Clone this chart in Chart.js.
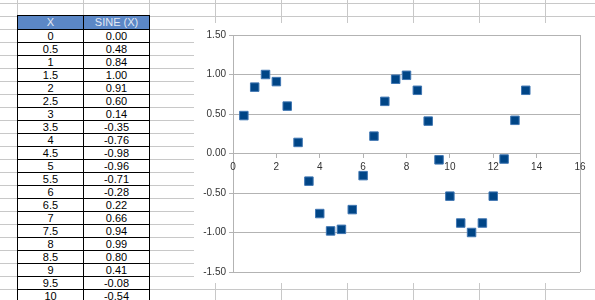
<!DOCTYPE html>
<html>
<head>
<meta charset="utf-8">
<script src="https://cdn.jsdelivr.net/npm/chart.js@4/dist/chart.umd.min.js"></script>
<style>
  html, body { margin: 0; padding: 0; }
  body {
    width: 595px; height: 300px; overflow: hidden; position: relative;
    background-color: #fff;
    background-image:
      linear-gradient(to bottom, #c8c8c8 1px, transparent 1px),
      linear-gradient(to right, #c8c8c8 1px, transparent 1px);
    background-size: 100% 13px, 66px 100%;
    background-position: 0 3px, 17px 0;
    font-family: "Liberation Sans", Arial, sans-serif;
  }
  #tbl { position: absolute; left: 17px; top: 15px; border-left: 1px solid #000; border-top: 1px solid #000; }
  .row { display: flex; }
  .cell { box-sizing: border-box; width: 66px; height: 13px; border-right: 1px solid #000; border-bottom: 1px solid #000;
          font-size: 11px; line-height: 12px; text-align: center; color: #000; background: #fff; }
  .hdr .cell { height: 14px; line-height: 13px; background: #5b87c6; color: #e2e8f2; }
  #chartBox { position: absolute; left: 194px; top: 23px; width: 401px; height: 260px; background: #fff; }
</style>
</head>
<body>
<div id="tbl"></div>
<div id="chartBox"><canvas id="c" width="401" height="260"></canvas></div>
<script>
// Table data
const tableHeaders = ["X", "SINE (X)"];
const tableX = ["0","0.5","1","1.5","2","2.5","3","3.5","4","4.5","5","5.5","6","6.5","7","7.5","8","8.5","9","9.5","10"];
const tableSine = ["0.00","0.48","0.84","1.00","0.91","0.60","0.14","-0.35","-0.76","-0.98","-0.96","-0.71","-0.28","0.22","0.66","0.94","0.99","0.80","0.41","-0.08","-0.54"];

// Chart data
const chartX = [0.5,1,1.5,2,2.5,3,3.5,4,4.5,5,5.5,6,6.5,7,7.5,8,8.5,9,9.5,10,10.5,11,11.5,12,12.5,13,13.5];
const chartY = [0.48,0.84,1.00,0.91,0.60,0.14,-0.35,-0.76,-0.98,-0.96,-0.71,-0.28,0.22,0.66,0.94,0.99,0.80,0.41,-0.08,-0.54,-0.88,-1.00,-0.88,-0.54,-0.07,0.42,0.80];
const yTickLabels = ["-1.50","-1.00","-0.50","0.00","0.50","1.00","1.50"];
const xTickLabels = ["0","2","4","6","8","10","12","14","16"];

// Build table
const tbl = document.getElementById('tbl');
function addRow(vals, cls) {
  const r = document.createElement('div');
  r.className = 'row' + (cls ? ' ' + cls : '');
  vals.forEach(v => { const c = document.createElement('div'); c.className = 'cell'; c.textContent = v; r.appendChild(c); });
  tbl.appendChild(r);
}
addRow(tableHeaders, 'hdr');
tableX.forEach((x, i) => addRow([x, tableSine[i]]));

const gridCol = '#b3b3b3';
const labelFont = { family: "Liberation Sans", size: 10 };

new Chart(document.getElementById('c'), {
  type: 'scatter',
  data: {
    datasets: [{
      data: chartX.map((x, i) => ({ x: x, y: chartY[i] })),
      pointStyle: 'rect',
      pointRadius: 6,
      pointHoverRadius: 6,
      backgroundColor: '#004586',
      borderColor: '#3f76b2',
      borderWidth: 1,
      showLine: false
    }]
  },
  options: {
    responsive: false,
    devicePixelRatio: 1,
    animation: false,
    layout: { padding: { top: 12, right: 15, bottom: 11, left: 0 } },
    plugins: { legend: { display: false }, tooltip: { enabled: false } },
    scales: {
      y: {
        min: -1.5, max: 1.5,
        afterFit: s => { s.width = 39; },
        ticks: {
          stepSize: 0.5, font: labelFont, color: '#333', padding: 3,
          callback: (v) => yTickLabels[Math.round((v + 1.5) / 0.5)]
        },
        grid: { color: gridCol, tickLength: 4, tickColor: gridCol },
        border: { color: gridCol }
      },
      x: {
        type: 'linear', min: 0, max: 16,
        position: { y: 0 },
        ticks: {
          stepSize: 2, font: labelFont, color: '#333', padding: 4, maxRotation: 0,
          callback: (v) => xTickLabels[Math.round(v / 2)]
        },
        grid: {
          color: ctx => (ctx.tick && ctx.tick.value === 16) ? gridCol : 'rgba(0,0,0,0)',
          tickColor: gridCol, tickLength: 4
        },
        border: { color: gridCol }
      }
    }
  }
});
</script>
</body>
</html>
